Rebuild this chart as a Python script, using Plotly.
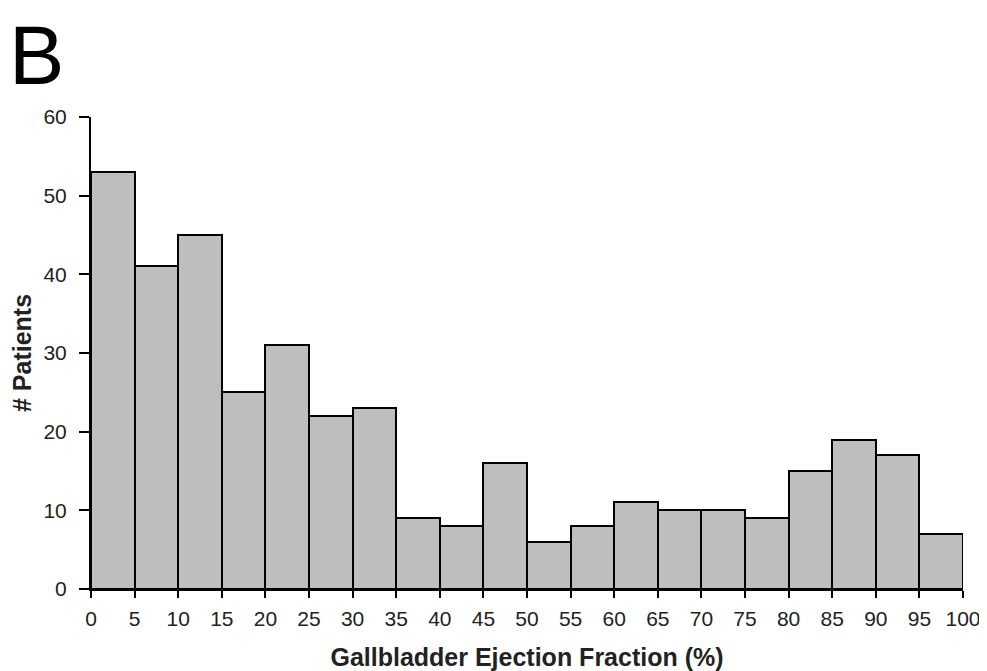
import plotly.graph_objects as go

bin_starts = [0, 5, 10, 15, 20, 25, 30, 35, 40, 45, 50, 55, 60, 65, 70, 75, 80, 85, 90, 95]
counts = [53, 41, 45, 25, 31, 22, 23, 9, 8, 16, 6, 8, 11, 10, 10, 9, 15, 19, 17, 7]
bin_width = 5
x_ticks = list(range(0, 105, 5))
y_ticks = [0, 10, 20, 30, 40, 50, 60]

fig = go.Figure(go.Bar(
    x=[b + bin_width / 2 for b in bin_starts],
    y=counts,
    width=[bin_width] * len(counts),
    marker=dict(color="#bebebe", line=dict(color="black", width=2)),
))

fig.update_layout(
    width=979, height=663,
    margin=dict(l=83, r=24, t=109, b=82),
    plot_bgcolor="white", paper_bgcolor="white",
    font=dict(family="Liberation Sans, Arial, sans-serif", size=21, color="#222222"),
    showlegend=False,
    bargap=0,
    xaxis=dict(
        range=[0, 100], tickvals=x_ticks, ticktext=[str(v) for v in x_ticks],
        tickfont=dict(size=21), automargin=False,
        showline=True, linecolor="black", linewidth=2,
        ticks="outside", ticklen=7, tickwidth=2, tickcolor="black",
        ticklabelstandoff=3,
        showgrid=False, zeroline=False,
        title=dict(text="<b>Gallbladder Ejection Fraction (%)</b>", font=dict(size=25), standoff=19),
    ),
    yaxis=dict(
        range=[0, 60], tickvals=y_ticks,
        tickfont=dict(size=21), automargin=False,
        showline=True, linecolor="black", linewidth=2,
        ticks="outside", ticklen=10, tickwidth=2, tickcolor="black",
        ticklabelstandoff=8,
        showgrid=False, zeroline=False,
        title=dict(text="<b># Patients</b>", font=dict(size=25), standoff=10),
    ),
    annotations=[dict(
        text="B", xref="paper", yref="paper", x=-0.0950, y=1.2305,
        xanchor="left", yanchor="top", showarrow=False, borderpad=0,
        font=dict(size=83, color="black", family="Liberation Sans, Arial, sans-serif"),
    )],
)

fig.write_html("out.html")
